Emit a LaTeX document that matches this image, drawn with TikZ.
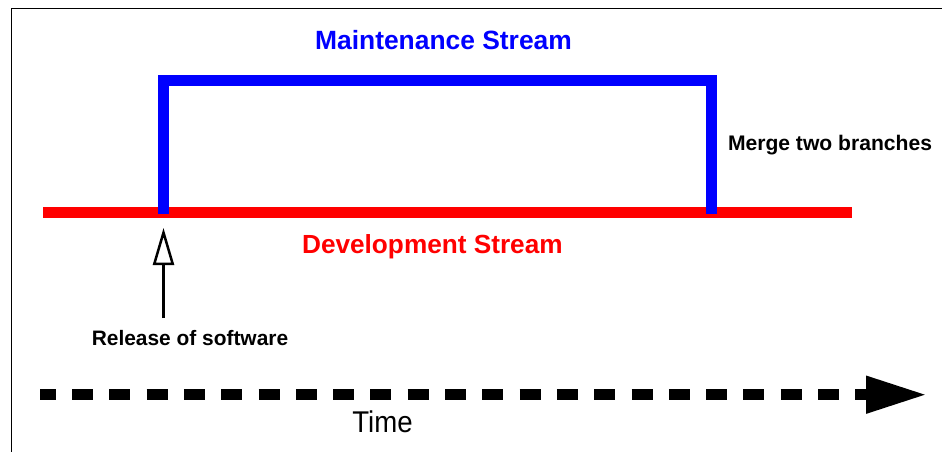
\documentclass[tikz,border=0pt]{standalone}
\usepackage{fontspec}
\setmainfont{Liberation Sans}
\newfontfamily\timefont[FakeStretch=0.92]{Liberation Sans}
\usetikzlibrary{arrows.meta}
\definecolor{mblue}{RGB}{0,0,255}
\definecolor{dred}{RGB}{255,0,0}
\tikzset{
  lbl/.style={inner sep=0pt, anchor=base, font=\bfseries},
  stream/.style={line width=11pt},
}
\begin{document}
\begin{tikzpicture}[x=1pt,y=-1pt]
\useasboundingbox (0,0) rectangle (947,452);
% frame
\draw[line width=0.9pt] (11,452) -- (11,8) -- (942,8);
% development stream
\coordinate (d1) at (43,212);
\coordinate (d2) at (852,212);
\draw[stream, dred] (d1) -- (d2);
% maintenance stream
\coordinate (m1) at (163.5,214);
\coordinate (m2) at (163.5,80.5);
\coordinate (m3) at (711,80.5);
\coordinate (m4) at (711,214);
\draw[stream, mblue, miter limit=10] (m1) -- (m2) -- (m3) -- (m4);
% labels
\node[lbl, text=mblue, font=\bfseries\fontsize{26.4}{30}\selectfont] (mt) at (443.5,50) {Maintenance Stream};
\node[lbl, text=dred, font=\bfseries\fontsize{26.2}{30}\selectfont] (dt) at (432.4,253) {Development Stream};
\node[lbl, font=\bfseries\fontsize{21.1}{24}\selectfont] (mg) at (830,150) {Merge two branches};
\node[lbl, font=\bfseries\fontsize{20.9}{24}\selectfont] (rl) at (190,345) {Release of software};
% release arrow
\coordinate (rs) at (163.5,318);
\coordinate (rt) at (163.5,228);
\draw[line width=2.5pt, -{Triangle[open, length=37pt, width=21pt]}] (rs) -- (rt);
% time arrow
\coordinate (t1) at (40,394.7);
\coordinate (t2) at (927,394.7);
\draw[line width=10.7pt, dash pattern=on 21pt off 16.3pt, dash phase=5.3pt,
      -{Triangle[length=61pt, width=35pt]}] (t1) -- (t2);
\node[inner sep=0pt, anchor=base, font=\timefont\fontsize{30}{34}\selectfont] (tm) at (382.5,432) {Time};
\end{tikzpicture}
\end{document}
